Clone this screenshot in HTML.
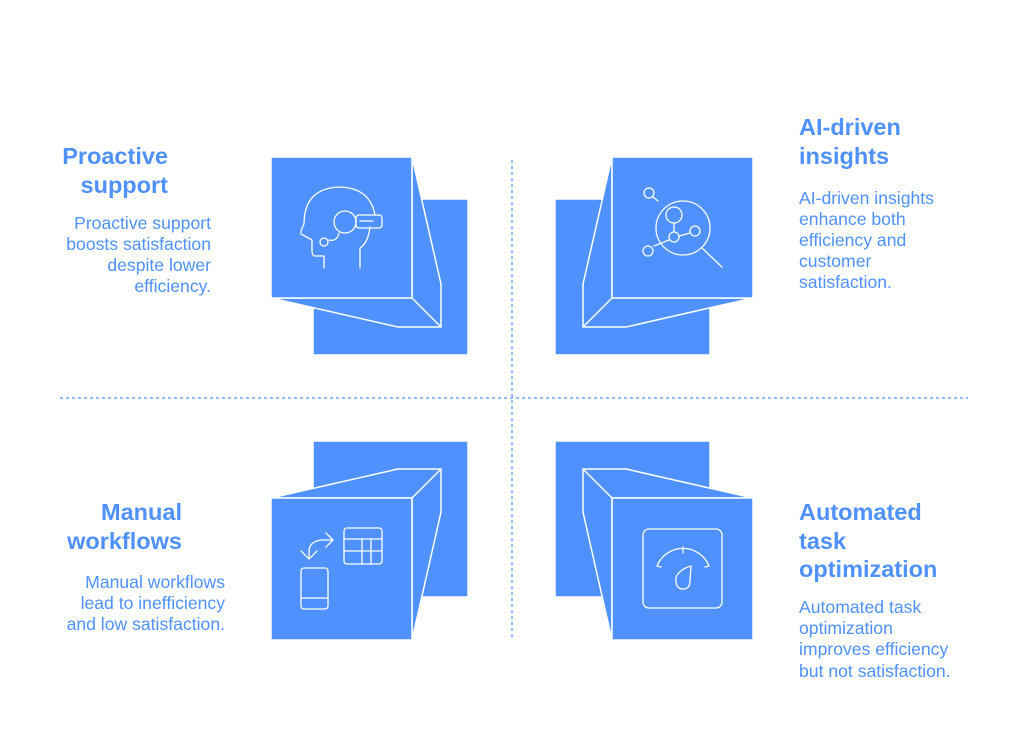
<!DOCTYPE html>
<html><head><meta charset="utf-8"><style>
html,body{margin:0;padding:0;background:#fff;}
svg{display:block;}
text{font-family:"Liberation Sans",sans-serif;fill:#4F91FF;}
.t{font-size:23.5px;font-weight:bold;}
.b{font-size:17.6px;}
</style></head><body>
<svg width="1024" height="740" viewBox="0 0 1024 740">
<g stroke="#4F91FF" stroke-width="1.2" stroke-dasharray="3,3" fill="none">
<line x1="512" y1="160" x2="512" y2="640"/>
<line x1="60" y1="398" x2="968" y2="398"/>
</g>
<g fill="#4F91FF" stroke="#fff" stroke-width="1.5" stroke-linejoin="round">
<rect x="313" y="199" width="155" height="156"/>
<polygon points="412,157 441,284 441,327 398,327 271,298 412,298"/>
<rect x="271" y="157" width="141" height="141"/>
<line x1="412" y1="298" x2="441" y2="327"/>
<rect x="555" y="199" width="155" height="156"/>
<polygon points="612,157 583,284 583,327 626,327 753,298 612,298"/>
<rect x="612" y="157" width="141" height="141"/>
<line x1="612" y1="298" x2="583" y2="327"/>
<rect x="313" y="441" width="155" height="156"/>
<polygon points="271,498 398,469 441,469 441,512 412,640 412,498"/>
<rect x="271" y="498" width="141" height="142"/>
<line x1="412" y1="498" x2="441" y2="469"/>
<rect x="555" y="441" width="155" height="156"/>
<polygon points="753,498 626,469 583,469 583,512 612,640 612,498"/>
<rect x="612" y="498" width="141" height="142"/>
<line x1="612" y1="498" x2="583" y2="469"/>
</g>
<g fill="none" stroke="#fff" stroke-width="1.3" stroke-linecap="round" stroke-linejoin="round">
<path d="M324,268 V256 H315 Q312,256 312,250 V240 L301,234 Q300,232 304,224 Q304,188 340,187 Q370,188 375,215"/>
<path d="M360,268 V248 Q368,243 370,227"/>
<circle cx="345" cy="222" r="11"/>
<rect x="356" y="215" width="26" height="13" rx="3"/>
<line x1="360" y1="221" x2="373" y2="221"/>
<path d="M339,233 Q337,242 329,240"/>
<circle cx="324" cy="242" r="4"/>
<circle cx="649" cy="193" r="5"/><line x1="653" y1="197" x2="658" y2="201"/>
<circle cx="683" cy="228" r="27"/>
<line x1="702" y1="248" x2="722" y2="267"/>
<circle cx="674" cy="215" r="8"/>
<line x1="674" y1="223" x2="674" y2="232"/>
<circle cx="674" cy="237" r="5"/>
<line x1="679" y1="236" x2="690" y2="233"/>
<circle cx="695" cy="231" r="5"/>
<line x1="669" y1="240" x2="654" y2="246"/>
<circle cx="648" cy="251" r="5"/>
<path d="M309,557 V552 Q309,541 322,540 H333"/>
<path d="M301,551 L309,559 L317,551"/>
<path d="M326,533 L333,540 L326,547"/>
<rect x="344" y="528" width="38" height="36" rx="3"/>
<line x1="344" y1="539" x2="382" y2="539"/>
<line x1="344" y1="551" x2="382" y2="551"/>
<line x1="362" y1="539" x2="362" y2="564"/>
<line x1="371" y1="539" x2="371" y2="564"/>
<rect x="301" y="568" width="27" height="41" rx="3"/>
<line x1="301" y1="598" x2="328" y2="598"/>
<rect x="643" y="529" width="79" height="79" rx="6"/>
<path d="M657,566 A28,28 0 0 1 709,566"/>
<line x1="657" y1="566" x2="661" y2="567"/><line x1="709" y1="566" x2="705" y2="567"/>
<line x1="683" y1="547" x2="683" y2="553"/>
<path d="M691,566 Q680,569 676,577 Q675,589 683,589 Q690,589 690,581 Z"/>
</g>
<text class="t" text-anchor="end"><tspan x="168" y="164">Proactive</tspan><tspan x="168" y="193">support</tspan></text>
<text class="b" text-anchor="end"><tspan x="211" y="229">Proactive support</tspan><tspan x="211" y="250">boosts satisfaction</tspan><tspan x="211" y="271">despite lower</tspan><tspan x="211" y="292">efficiency.</tspan></text>
<text class="t"><tspan x="799" y="135">AI-driven</tspan><tspan x="799" y="164">insights</tspan></text>
<text class="b"><tspan x="799" y="204">AI-driven insights</tspan><tspan x="799" y="225">enhance both</tspan><tspan x="799" y="246">efficiency and</tspan><tspan x="799" y="267">customer</tspan><tspan x="799" y="288">satisfaction.</tspan></text>
<text class="t" text-anchor="end"><tspan x="182" y="520">Manual</tspan><tspan x="182" y="549">workflows</tspan></text>
<text class="b" text-anchor="end"><tspan x="225" y="588">Manual workflows</tspan><tspan x="225" y="609">lead to inefficiency</tspan><tspan x="225" y="630">and low satisfaction.</tspan></text>
<text class="t"><tspan x="799" y="520">Automated</tspan><tspan x="799" y="549">task</tspan><tspan x="799" y="577">optimization</tspan></text>
<text class="b"><tspan x="799" y="613">Automated task</tspan><tspan x="799" y="634">optimization</tspan><tspan x="799" y="655">improves efficiency</tspan><tspan x="799" y="677">but not satisfaction.</tspan></text>
</svg>
</body></html>
